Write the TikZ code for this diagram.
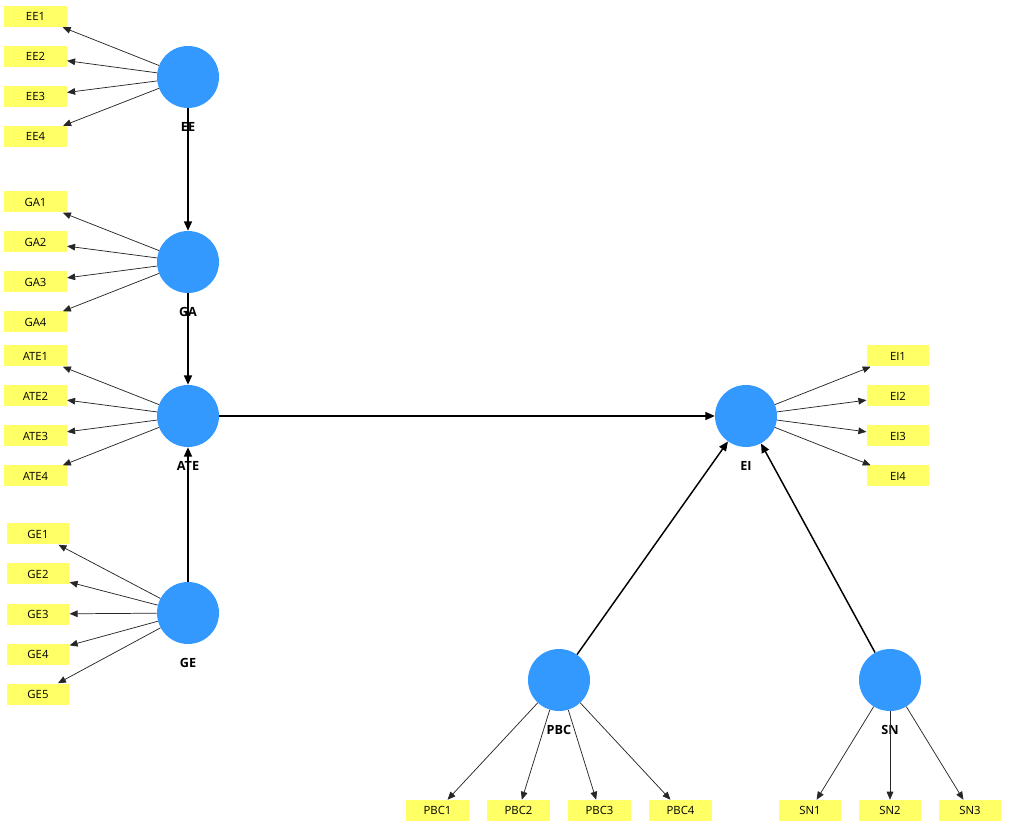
\documentclass[tikz,border=0pt]{standalone}
\usepackage{fontspec}
\setmainfont{Open Sans}
\usepackage{tikz}
\usetikzlibrary{arrows.meta}
\definecolor{lvblue}{RGB}{51,153,255}
\definecolor{indyellow}{RGB}{255,255,102}
\tikzset{
  lv/.style={circle, fill=lvblue, inner sep=0pt, minimum size=46.5pt},
  ind/.style={fill=indyellow, inner sep=0pt, minimum width=47pt,
    minimum height=15.75pt, font=\fontsize{8.5}{10}\selectfont},
  lvname/.style={font=\fontsize{9.5}{11}\selectfont\bfseries},
  load/.style={line width=0.55pt, draw=black!85},
  struct/.style={line width=1.1pt, -{Triangle[length=7pt, width=6pt]}}
}

\begin{document}
\begin{tikzpicture}[x=0.75pt, y=-0.75pt,
% arrow heads for all connectors
-{Triangle[length=6pt, width=5pt]}]
\useasboundingbox (0,0) rectangle (1011,830);
% latent variables
\node[lv] (EE) at (188,77) {};
\node[lv] (GA) at (188,262) {};
\node[lv] (ATE) at (188,416) {};
\node[lv] (GE) at (188,613) {};
\node[lv] (EI) at (746,416) {};
\node[lv] (PBC) at (559,680) {};
\node[lv] (SN) at (890,680) {};
% names under the circles
\node[lvname] (EEname) at (188,127) {EE};
\node[lvname] (GAname) at (188,312) {GA};
\node[lvname] (ATEname) at (188,466) {ATE};
\node[lvname] (GEname) at (188,663) {GE};
\node[lvname] (EIname) at (746,466) {EI};
\node[lvname] (PBCname) at (559,730) {PBC};
\node[lvname] (SNname) at (890,730) {SN};
% indicators on the left
\foreach \i in {1, 2, ..., 4} {
    \node[ind] (EE\i) at (35.5, {16.5+40*(\i-1)}) {EE\i};
    \node[ind] (GA\i) at (35.5, {202+40*(\i-1)}) {GA\i};
    \node[ind] (ATE\i) at (35.5, {356+40*(\i-1)}) {ATE\i};
    \node[ind] (EI\i) at (898, {356+40*(\i-1)}) {EI\i};
    \node[ind] (PBC\i) at ({437.5+81*(\i-1)}, 810.5) {PBC\i};
    \draw[load] (EE) -- (EE\i);
    \draw[load] (GA) -- (GA\i);
    \draw[load] (ATE) -- (ATE\i);
    \draw[load] (EI) -- (EI\i);
    \draw[load] (PBC) -- (PBC\i);
}
\foreach \i in {1, 2, ..., 5} {
    \node[ind] (GE\i) at (38, {534+40*(\i-1)}) {GE\i};
    \draw[load] (GE) -- (GE\i);
}
\foreach \i in {1, 2, 3} {
    \node[ind] (SN\i) at ({810+80*(\i-1)}, 810.5) {SN\i};
    \draw[load] (SN) -- (SN\i);
}
% structural paths
\draw[struct] (EE) -- (GA);
\draw[struct] (GA) -- (ATE);
\draw[struct] (GE) -- (ATE);
\draw[struct] (ATE) -- (EI);
\draw[struct] (PBC) -- (EI);
\draw[struct] (SN) -- (EI);
\end{tikzpicture}
\end{document}
